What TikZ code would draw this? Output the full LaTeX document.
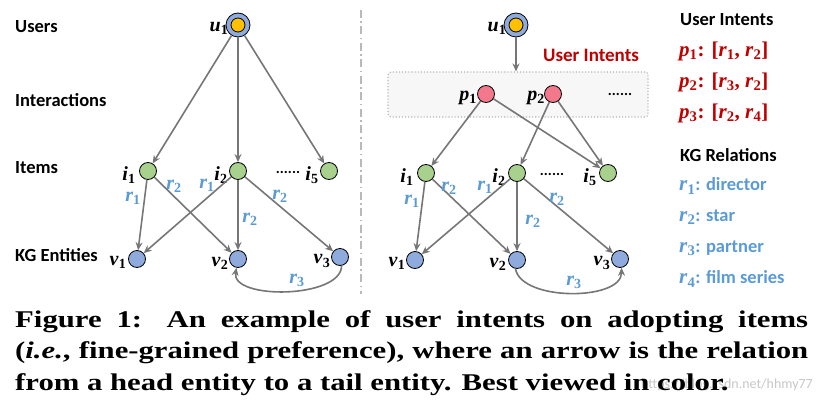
\documentclass[tikz,border=0pt]{standalone}
\usepackage{fontspec}
\setmainfont{Liberation Serif}
\newfontfamily\lblfont{Carlito}
\newfontfamily\capfont[FakeStretch=1.28]{Liberation Serif}
\usetikzlibrary{arrows.meta}
\newcommand\vlab[2]{\textbf{\textit{#1}}\textsubscript{\textbf{#2}}}
\definecolor{ublue}{RGB}{143,170,220}
\definecolor{uyellow}{RGB}{255,192,0}
\definecolor{igreen}{RGB}{169,209,142}
\definecolor{ppink}{RGB}{244,120,140}
\definecolor{egray}{RGB}{118,118,118}
\definecolor{rblue}{RGB}{91,155,213}
\definecolor{dred}{RGB}{192,0,0}
\definecolor{divgray}{RGB}{185,185,185}
\tikzset{
  ubig/.style={circle,draw=black,line width=0.8pt,fill=ublue,minimum size=24pt,inner sep=0pt},
  usmall/.style={circle,draw=black,line width=0.8pt,fill=uyellow,minimum size=14pt,inner sep=0pt},
  itemnode/.style={circle,draw=black,line width=0.8pt,fill=igreen,minimum size=17pt,inner sep=0pt},
  entnode/.style={circle,draw=black,line width=0.8pt,fill=ublue,minimum size=17pt,inner sep=0pt},
  intnode/.style={circle,draw=black,line width=0.8pt,fill=ppink,minimum size=17pt,inner sep=0pt},
  conn/.style={draw=egray,line width=1.6pt,-{Stealth[length=8pt,width=7pt]}},
  rlab/.style={text=rblue,inner sep=0pt,font=\fontsize{20}{20}\selectfont},
  mlab/.style={inner sep=0pt,font=\fontsize{20}{20}\selectfont},
  rowlab/.style={anchor=west,inner sep=0pt,font=\lblfont\bfseries\fontsize{18.5}{20}\selectfont},
  dotslab/.style={inner sep=0pt,font=\lblfont\bfseries\fontsize{15}{15}\selectfont},
  legmath/.style={anchor=west,inner sep=0pt,font=\fontsize{21}{21}\selectfont},
  legtext/.style={anchor=west,inner sep=0pt,text=rblue,font=\lblfont\bfseries\fontsize{18.5}{20}\selectfont},
  divider/.style={draw=divgray,line width=1.5pt,dash pattern=on 8pt off 3.5pt on 1.5pt off 3.5pt},
  intbox/.style={draw=black!30,rounded corners=3pt,line width=1.1pt,dotted,fill=black!3,inner sep=0pt},
}
\begin{document}
\begin{tikzpicture}[x=1pt,y=-1pt]
\useasboundingbox (0,0) rectangle (824,401);
% row labels
\node[rowlab] (lUsers) at (15,27) {Users};
\node[rowlab] (lInter) at (15,100) {Interactions};
\node[rowlab] (lItems) at (15,168) {Items};
\node[rowlab] (lKG) at (15,255) {KG Entities};
% divider
\coordinate (dtop) at (361,10);
\coordinate (dbot) at (361,294);
\draw[divider] (dtop) -- (dbot);

% ---------- left panel ----------
\node[ubig] (Lu) at (238,25) {};
\node[usmall] (Lui) at (238,25) {};
\node[mlab] (Lutx) at (219,28) {\vlab{u}{1}};
\node[itemnode] (Li1) at (148,171) {};
\node[itemnode] (Li2) at (238,171) {};
\node[itemnode] (Li5) at (329,171) {};
\node[mlab] (Li1tx) at (129,175) {\vlab{i}{1}};
\node[mlab] (Li2tx) at (221,175) {\vlab{i}{2}};
\node[mlab] (Li5tx) at (312,175) {\vlab{i}{5}};
\node[dotslab] (Ldots) at (288,172) {......};
\node[entnode] (Lv1) at (137,259) {};
\node[entnode] (Lv2) at (238,259) {};
\node[entnode] (Lv3) at (340,257) {};
\node[mlab] (Lv1tx) at (118,262) {\vlab{v}{1}};
\node[mlab] (Lv2tx) at (220,263) {\vlab{v}{2}};
\node[mlab] (Lv3tx) at (322,261) {\vlab{v}{3}};
\draw[conn] (Lu) -- (Li1);
\draw[conn] (Lu) -- (Li2);
\draw[conn] (Lu) -- (Li5);
\draw[conn] (Li1) -- (Lv1);
\draw[conn] (Li1) -- (Lv2);
\draw[conn] (Li2) -- (Lv1);
\draw[conn] (Li2) -- (Lv2);
\draw[conn] (Li2) -- (Lv3);
\draw[conn] (Lv3.-80) to[out=-90,in=-100,looseness=0.8] (Lv2.-100);
\node[rlab] (Lr1a) at (133,198) {\vlab{r}{1}};
\node[rlab] (Lr2a) at (174,186) {\vlab{r}{2}};
\node[rlab] (Lr1b) at (207,185) {\vlab{r}{1}};
\node[rlab] (Lr2b) at (250,219) {\vlab{r}{2}};
\node[rlab] (Lr2c) at (280,196) {\vlab{r}{2}};
\node[rlab] (Lr3) at (297,280) {\vlab{r}{3}};

% ---------- right panel ----------
\node[intbox,minimum width=260pt,minimum height=45pt] (box) at (518,94.5) {};
\node[ubig] (Ru) at (516,25) {};
\node[usmall] (Rui) at (516,25) {};
\node[mlab] (Rutx) at (497,28) {\vlab{u}{1}};
\node[inner sep=0pt,text=dred,font=\lblfont\bfseries\fontsize{19}{20}\selectfont] (Rint) at (591,55) {User Intents};
\draw[conn] (Ru) -- (Ru |- box.north);
\node[intnode] (Rp1) at (486,94) {};
\node[intnode] (Rp2) at (553,94) {};
\node[mlab] (Rp1tx) at (468,98) {\vlab{p}{1}};
\node[mlab] (Rp2tx) at (536,98) {\vlab{p}{2}};
\node[dotslab] (Rpdots) at (620,94) {......};
\node[itemnode] (Ri1) at (426,173) {};
\node[itemnode] (Ri2) at (517,173) {};
\node[itemnode] (Ri5) at (608,173) {};
\node[mlab] (Ri1tx) at (407,177) {\vlab{i}{1}};
\node[mlab] (Ri2tx) at (499,177) {\vlab{i}{2}};
\node[mlab] (Ri5tx) at (590,177) {\vlab{i}{5}};
\node[dotslab] (Rdots) at (552,174) {......};
\node[entnode] (Rv1) at (415,260) {};
\node[entnode] (Rv2) at (517,260) {};
\node[entnode] (Rv3) at (620,259) {};
\node[mlab] (Rv1tx) at (397,263) {\vlab{v}{1}};
\node[mlab] (Rv2tx) at (498,264) {\vlab{v}{2}};
\node[mlab] (Rv3tx) at (602,263) {\vlab{v}{3}};
\draw[conn] (Rp1) -- (Ri1);
\draw[conn] (Rp1) -- (Ri5);
\draw[conn] (Rp2) -- (Ri2);
\draw[conn] (Rp2) -- (Ri5);
\draw[conn] (Ri1) -- (Rv1);
\draw[conn] (Ri1) -- (Rv2);
\draw[conn] (Ri2) -- (Rv1);
\draw[conn] (Ri2) -- (Rv2);
\draw[conn] (Ri2) -- (Rv3);
\draw[conn] (Rv2.-100) to[out=-80,in=-90,looseness=0.8] (Rv3.-80);
\node[rlab] (Rr1a) at (412,201) {\vlab{r}{1}};
\node[rlab] (Rr2a) at (449,188) {\vlab{r}{2}};
\node[rlab] (Rr1b) at (485,187) {\vlab{r}{1}};
\node[rlab] (Rr2b) at (533,221) {\vlab{r}{2}};
\node[rlab] (Rr2c) at (557,199) {\vlab{r}{2}};
\node[rlab] (Rr3) at (574,282) {\vlab{r}{3}};

% ---------- legend ----------
\node[rowlab] (gUI) at (680,20) {User Intents};
\node[legmath,text=dred] (gp1) at (679,51) {\vlab{p}{1}\textbf{: [}\vlab{r}{1}\textbf{, }\vlab{r}{2}\textbf{]}};
\node[legmath,text=dred] (gp2) at (679,82) {\vlab{p}{2}\textbf{: [}\vlab{r}{3}\textbf{, }\vlab{r}{2}\textbf{]}};
\node[legmath,text=dred] (gp3) at (679,113) {\vlab{p}{3}\textbf{: [}\vlab{r}{2}\textbf{, }\vlab{r}{4}\textbf{]}};
\node[rowlab] (gKG) at (680,155) {KG Relations};
\node[legtext] (gr1) at (679,186) {{\rmfamily\fontsize{21}{21}\selectfont\vlab{r}{1}}: director};
\node[legtext] (gr2) at (679,217) {{\rmfamily\fontsize{21}{21}\selectfont\vlab{r}{2}}: star};
\node[legtext] (gr3) at (679,248) {{\rmfamily\fontsize{21}{21}\selectfont\vlab{r}{3}}: partner};
\node[legtext] (gr4) at (679,279) {{\rmfamily\fontsize{21}{21}\selectfont\vlab{r}{4}}: film series};

% ---------- caption ----------
\node[anchor=west,inner sep=0pt,text=black!22,font=\lblfont\fontsize{14}{14}\selectfont] (wm) at (641,385) {https://blog.csdn.net/hhmy77};
\node[anchor=north west,inner sep=0pt,text width=793pt,align=justify,
      font=\capfont\bfseries\fontsize{24}{31.5}\selectfont] (cap) at (15,310)
 {Figure 1: An example of user intents on adopting items\linebreak
  (\textit{i.e.}, fine-grained preference), where an arrow is the relation\linebreak
  from a head entity to a tail entity. Best viewed in color.};
\end{tikzpicture}
\end{document}
